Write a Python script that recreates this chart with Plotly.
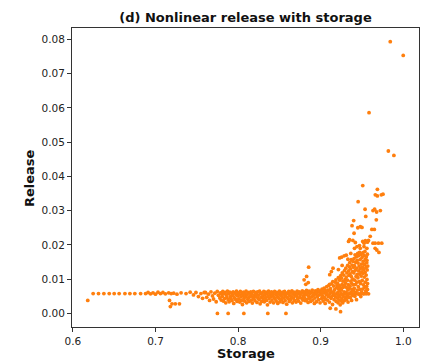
import plotly.graph_objects as go

# ---- flat low-storage tail ----
tail_x = [0.618, 0.6245, 0.631, 0.6375, 0.644, 0.650, 0.656, 0.663, 0.669, 0.675,
          0.682, 0.688, 0.691, 0.694, 0.697, 0.700, 0.703, 0.706, 0.709, 0.712,
          0.716, 0.719, 0.722, 0.726, 0.731, 0.737, 0.742, 0.746, 0.749, 0.752,
          0.755, 0.757, 0.759, 0.717, 0.718, 0.720, 0.724, 0.729]
tail_y = [0.0038, 0.0058, 0.0058, 0.0058, 0.0058, 0.0058, 0.0058, 0.0058, 0.0058, 0.0058,
          0.0058, 0.0058, 0.0061, 0.0057, 0.0060, 0.0056, 0.0062, 0.0058, 0.0061, 0.0057,
          0.0060, 0.0058, 0.0059, 0.0056, 0.0060, 0.0058, 0.0062, 0.0054, 0.0061, 0.0049,
          0.0058, 0.0044, 0.0061, 0.0038, 0.0020, 0.0028, 0.0028, 0.0028]

# ---- dense band (storage 0.76 - 0.92) ----
band_x = [
    0.7605, 0.7620, 0.7641, 0.7655, 0.7672, 0.7690, 0.7703, 0.7718, 0.7735, 0.7748, 0.7762, 0.7779, 0.7788, 0.7796, 0.7801,
    0.7808, 0.7815, 0.7822, 0.7830, 0.7836, 0.7843, 0.7851, 0.7857, 0.7864, 0.7871, 0.7879, 0.7885, 0.7892, 0.7899,
    0.7906, 0.7912, 0.7920, 0.7927, 0.7933, 0.7940, 0.7948, 0.7954, 0.7961, 0.7968, 0.7975, 0.7981, 0.7988, 0.7994,
    0.8002, 0.8008, 0.8015, 0.8021, 0.8027, 0.8034, 0.8040, 0.8047, 0.8053, 0.8059, 0.8066, 0.8072, 0.8078, 0.8085,
    0.8091, 0.8097, 0.8104, 0.8110, 0.8116, 0.8123, 0.8129, 0.8135, 0.8142, 0.8148, 0.8154, 0.8161, 0.8167, 0.8173,
    0.8180, 0.8186, 0.8192, 0.8198,
    0.8204, 0.8210, 0.8217, 0.8223, 0.8229, 0.8236, 0.8242, 0.8248, 0.8255, 0.8261, 0.8267, 0.8274, 0.8280, 0.8286,
    0.8293, 0.8299, 0.8305, 0.8312, 0.8318, 0.8324, 0.8331, 0.8337, 0.8343, 0.8350, 0.8356, 0.8362, 0.8369, 0.8375,
    0.8381, 0.8388, 0.8394, 0.8399,
    0.8405, 0.8411, 0.8418, 0.8424, 0.8430, 0.8437, 0.8443, 0.8449, 0.8456, 0.8462, 0.8468, 0.8475, 0.8481, 0.8487,
    0.8494, 0.8500, 0.8506, 0.8513, 0.8519, 0.8525, 0.8532, 0.8538, 0.8544, 0.8551, 0.8557, 0.8563, 0.8570, 0.8576,
    0.8582, 0.8589, 0.8595,
    0.8601, 0.8607, 0.8614, 0.8620, 0.8626, 0.8633, 0.8639, 0.8645, 0.8652, 0.8658, 0.8664, 0.8671, 0.8677, 0.8683,
    0.8690, 0.8696, 0.8702, 0.8709, 0.8715, 0.8721, 0.8728, 0.8734, 0.8740, 0.8747, 0.8753, 0.8759, 0.8766, 0.8772,
    0.8778, 0.8785, 0.8791, 0.8797,
    0.8803, 0.8810, 0.8816, 0.8822, 0.8829, 0.8835, 0.8841, 0.8848, 0.8854, 0.8860, 0.8867, 0.8873, 0.8879, 0.8886,
    0.8892, 0.8898, 0.8905, 0.8911, 0.8917, 0.8924, 0.8930, 0.8936, 0.8943, 0.8949, 0.8955, 0.8962, 0.8968, 0.8974,
    0.8981, 0.8987, 0.8993, 0.8999,
    0.9005, 0.9011, 0.9017, 0.9024, 0.9030, 0.9036, 0.9043, 0.9049, 0.9055, 0.9062, 0.9068, 0.9074, 0.9081, 0.9087,
    0.9093, 0.9100, 0.9106, 0.9112, 0.9119, 0.9125, 0.9131, 0.9138, 0.9144, 0.9150, 0.9157, 0.9163, 0.9169, 0.9176,
    0.9182, 0.9188, 0.9195, 0.9199,
    0.9008, 0.9021, 0.9033, 0.9046, 0.9059, 0.9071, 0.9084, 0.9097, 0.9109, 0.9122, 0.9134, 0.9147, 0.9160, 0.9172,
    0.9185, 0.9197,
]
band_y = [
    0.0061, 0.0047, 0.0056, 0.0038, 0.0063, 0.0051, 0.0042, 0.0059, 0.0034, 0.0064, 0.0053, 0.0045, 0.0060, 0.0039, 0.0057,
    0.0050, 0.0064, 0.0036, 0.0058, 0.0043, 0.0061, 0.0031, 0.0054, 0.0047, 0.0065, 0.0040, 0.0057, 0.0034, 0.0062,
    0.0049, 0.0044, 0.0059, 0.0037, 0.0053, 0.0063, 0.0029, 0.0046, 0.0060, 0.0041, 0.0055, 0.0065, 0.0035, 0.0051,
    0.0060, 0.0042, 0.0055, 0.0033, 0.0064, 0.0048, 0.0038, 0.0058, 0.0026, 0.0052, 0.0062, 0.0044, 0.0036, 0.0057,
    0.0049, 0.0065, 0.0031, 0.0054, 0.0041, 0.0061, 0.0046, 0.0035, 0.0059, 0.0050, 0.0063, 0.0039, 0.0056, 0.0030,
    0.0047, 0.0064, 0.0043, 0.0053,
    0.0037, 0.0061, 0.0049, 0.0056, 0.0032, 0.0063, 0.0044, 0.0053, 0.0040, 0.0065, 0.0028, 0.0058, 0.0047, 0.0035,
    0.0060, 0.0051, 0.0042, 0.0064, 0.0034, 0.0055, 0.0046, 0.0062, 0.0038, 0.0057, 0.0025, 0.0050, 0.0065, 0.0043,
    0.0059, 0.0033, 0.0054, 0.0048,
    0.0063, 0.0039, 0.0052, 0.0058, 0.0031, 0.0046, 0.0064, 0.0042, 0.0055, 0.0036, 0.0061, 0.0049, 0.0029, 0.0057,
    0.0044, 0.0065, 0.0034, 0.0053, 0.0060, 0.0040, 0.0048, 0.0062, 0.0032, 0.0056, 0.0045, 0.0064, 0.0037, 0.0051,
    0.0059, 0.0027, 0.0047,
    0.0058, 0.0043, 0.0064, 0.0035, 0.0052, 0.0061, 0.0040, 0.0048, 0.0066, 0.0031, 0.0056, 0.0045, 0.0062, 0.0038,
    0.0053, 0.0059, 0.0033, 0.0050, 0.0065, 0.0042, 0.0057, 0.0036, 0.0063, 0.0047, 0.0054, 0.0030, 0.0060, 0.0044,
    0.0066, 0.0039, 0.0051, 0.0058,
    0.0046, 0.0063, 0.0037, 0.0055, 0.0067, 0.0041, 0.0059, 0.0032, 0.0050, 0.0065, 0.0044, 0.0057, 0.0035, 0.0062,
    0.0048, 0.0068, 0.0039, 0.0053, 0.0060, 0.0029, 0.0045, 0.0066, 0.0056, 0.0034, 0.0061, 0.0049, 0.0069, 0.0040,
    0.0054, 0.0064, 0.0031, 0.0058,
    0.0066, 0.0043, 0.0071, 0.0051, 0.0036, 0.0060, 0.0074, 0.0046, 0.0029, 0.0063, 0.0055, 0.0078, 0.0039, 0.0068,
    0.0049, 0.0082, 0.0033, 0.0058, 0.0072, 0.0044, 0.0086, 0.0062, 0.0026, 0.0053, 0.0080, 0.0040, 0.0069, 0.0091,
    0.0048, 0.0035, 0.0075, 0.0057,
    0.0054, 0.0062, 0.0047, 0.0068, 0.0041, 0.0057, 0.0065, 0.0052, 0.0085, 0.0066, 0.0049, 0.0093, 0.0061, 0.0055,
    0.0098, 0.0083,
]

# ---- rising cloud (storage 0.92 - 0.957) ----
rise_x = [
    0.9202, 0.9205, 0.9208, 0.9211, 0.9214, 0.9216, 0.9219, 0.9222, 0.9225, 0.9228, 0.9231, 0.9234, 0.9237, 0.9240,
    0.9243, 0.9246, 0.9248,
    0.9251, 0.9254, 0.9257, 0.9260, 0.9262, 0.9265, 0.9268, 0.9271, 0.9274, 0.9277, 0.9280, 0.9283, 0.9286, 0.9289,
    0.9292, 0.9294, 0.9297, 0.9299,
    0.9302, 0.9305, 0.9307, 0.9310, 0.9313, 0.9316, 0.9318, 0.9321, 0.9324, 0.9327, 0.9329, 0.9332, 0.9335, 0.9338,
    0.9340, 0.9343, 0.9346, 0.9348, 0.9350,
    0.9352, 0.9355, 0.9357, 0.9360, 0.9362, 0.9365, 0.9367, 0.9370, 0.9372, 0.9375, 0.9377, 0.9380, 0.9382, 0.9385,
    0.9387, 0.9390, 0.9392, 0.9395, 0.9397, 0.9399,
    0.9402, 0.9404, 0.9407, 0.9409, 0.9412, 0.9414, 0.9417, 0.9419, 0.9422, 0.9424, 0.9427, 0.9429, 0.9432, 0.9434,
    0.9437, 0.9439, 0.9442, 0.9444, 0.9447, 0.9449,
    0.9451, 0.9453, 0.9456, 0.9458, 0.9461, 0.9463, 0.9466, 0.9468, 0.9471, 0.9473, 0.9476, 0.9478, 0.9481, 0.9483,
    0.9486, 0.9488, 0.9491, 0.9493, 0.9496, 0.9498,
    0.9501, 0.9503, 0.9506, 0.9508, 0.9511, 0.9513, 0.9516, 0.9518, 0.9521, 0.9523, 0.9526, 0.9528, 0.9531, 0.9533,
    0.9536, 0.9538, 0.9541, 0.9543, 0.9546, 0.9548,
    0.9551, 0.9553, 0.9556, 0.9558, 0.9561, 0.9563, 0.9566, 0.9568, 0.9570, 0.9553, 0.9560, 0.9567,
    0.9215, 0.9260, 0.9330, 0.9365, 0.9410, 0.9440, 0.9470, 0.9480, 0.9525, 0.9560, 0.9230,
]
rise_y = [
    0.0045, 0.0088, 0.0061, 0.0031, 0.0104, 0.0072, 0.0053, 0.0039, 0.0081, 0.0066, 0.0097, 0.0048, 0.0025, 0.0075,
    0.0110, 0.0058, 0.0036,
    0.0068, 0.0103, 0.0042, 0.0085, 0.0118, 0.0055, 0.0031, 0.0094, 0.0076, 0.0049, 0.0112, 0.0063, 0.0037, 0.0125,
    0.0081, 0.0058, 0.0099, 0.0046,
    0.0089, 0.0132, 0.0061, 0.0106, 0.0040, 0.0075, 0.0118, 0.0052, 0.0097, 0.0140, 0.0068, 0.0033, 0.0084, 0.0124,
    0.0047, 0.0111, 0.0072, 0.0136, 0.0057,
    0.0148, 0.0079, 0.0115, 0.0046, 0.0130, 0.0094, 0.0062, 0.0157, 0.0107, 0.0038, 0.0087, 0.0141, 0.0070, 0.0122,
    0.0053, 0.0100, 0.0152, 0.0083, 0.0135, 0.0066,
    0.0118, 0.0160, 0.0073, 0.0139, 0.0097, 0.0050, 0.0171, 0.0126, 0.0085, 0.0149, 0.0061, 0.0108, 0.0165, 0.0040,
    0.0132, 0.0091, 0.0155, 0.0114, 0.0068, 0.0175,
    0.0104, 0.0147, 0.0078, 0.0168, 0.0124, 0.0056, 0.0138, 0.0093, 0.0178, 0.0115, 0.0070, 0.0157, 0.0131, 0.0087,
    0.0049, 0.0172, 0.0109, 0.0144, 0.0062, 0.0121,
    0.0163, 0.0096, 0.0135, 0.0071, 0.0177, 0.0117, 0.0152, 0.0083, 0.0128, 0.0058, 0.0169, 0.0106, 0.0143, 0.0076,
    0.0181, 0.0120, 0.0091, 0.0158, 0.0066, 0.0134,
    0.0112, 0.0165, 0.0079, 0.0148, 0.0099, 0.0127, 0.0173, 0.0087, 0.0138, 0.0061, 0.0155, 0.0070,
    0.0128, 0.0140, 0.0158, 0.0175, 0.0190, 0.0195, 0.0198, 0.0190, 0.0195, 0.0190, 0.0162,
]

# ---- constant-release line at high storage ----
line_x = [0.931, 0.934, 0.937, 0.940, 0.943, 0.946, 0.949, 0.952, 0.955, 0.958]
line_y = [0.0057, 0.0057, 0.0057, 0.0057, 0.0057, 0.0057, 0.0057, 0.0057, 0.0057, 0.0057]

# ---- scattered points / outliers ----
out_x = [0.775, 0.788, 0.807, 0.836, 0.858,
         0.8855, 0.883, 0.880, 0.885, 0.882, 0.9116, 0.9185, 0.9241,
         0.911, 0.913, 0.915, 0.9253, 0.9285, 0.931, 0.9338, 0.938, 0.940,
         0.9405, 0.935, 0.939, 0.942, 0.945, 0.948, 0.950, 0.951, 0.9526, 0.9542,
         0.9566, 0.958, 0.962, 0.965, 0.9634, 0.9654, 0.9678, 0.9723, 0.9546,
         0.9674, 0.9538, 0.9454, 0.951, 0.9662, 0.9687, 0.9735, 0.9755, 0.9687,
         0.982, 0.9887, 0.9586, 0.9843, 1.000,
         0.966, 0.968, 0.9706, 0.9634, 0.9660, 0.9700, 0.9740, 0.9600]
out_y = [0.0000, 0.0000, 0.0000, 0.0000, 0.0000,
         0.0135, 0.0108, 0.0098, 0.0090, 0.0085, 0.0015, 0.0013, 0.0005,
         0.0113, 0.0122, 0.0132, 0.0164, 0.0168, 0.0170, 0.0210, 0.0256, 0.0271,
         0.0234, 0.0215, 0.0213, 0.0207, 0.0250, 0.0253, 0.0251, 0.0210, 0.0205, 0.0212,
         0.0208, 0.0213, 0.0245, 0.0245, 0.0300, 0.0304, 0.0296, 0.0300, 0.0283,
         0.0273, 0.0304, 0.0326, 0.0373, 0.0346, 0.0343, 0.0346, 0.0348, 0.0362,
         0.0474, 0.0461, 0.0586, 0.0793, 0.0753,
         0.0190, 0.0185, 0.0178, 0.0205, 0.0205, 0.0205, 0.0205, 0.0225]

xs = tail_x + band_x + rise_x + line_x + out_x
ys = tail_y + band_y + rise_y + line_y + out_y

x_ticks = [0.6, 0.7, 0.8, 0.9, 1.0]
y_ticks = [0.00, 0.01, 0.02, 0.03, 0.04, 0.05, 0.06, 0.07, 0.08]

fig = go.Figure(go.Scatter(
    x=xs, y=ys, mode="markers",
    marker=dict(color="#ff7f0e", size=3.8, line=dict(width=0)),
    hoverinfo="skip",
))

axis_common = dict(
    showgrid=False, zeroline=False, showline=True, linecolor="#333333", linewidth=1,
    mirror=True, ticks="outside", ticklen=4, tickwidth=1, tickcolor="#333333",
    tickfont=dict(family="DejaVu Sans", size=10.5, color="#222222"),
    automargin=False,
)
label_font = dict(family="DejaVu Sans", size=13, color="#111111")
fig.update_layout(
    width=423, height=361,
    margin=dict(l=72, r=4, t=28, b=34),
    paper_bgcolor="white", plot_bgcolor="white",
    showlegend=False,
    title=dict(text="<b>(d) Nonlinear release with storage</b>", x=0.5, xref="paper",
               y=1 - 17 / 361, yanchor="middle", yref="container",
               font=dict(family="DejaVu Sans", size=13, color="#111111")),
    xaxis=dict(range=[0.5989, 1.0191], tickvals=x_ticks, tickformat=".1f", **axis_common),
    yaxis=dict(range=[-0.00397, 0.0833], tickvals=y_ticks, tickformat=".2f", **axis_common),
    annotations=[
        dict(text="<b>Storage</b>", xref="paper", yref="paper", x=0.5, y=-0.0903,
             xanchor="center", yanchor="middle", showarrow=False, font=label_font),
        dict(text="<b>Release</b>", xref="paper", yref="paper", x=-0.1239, y=0.498,
             xanchor="center", yanchor="middle", showarrow=False, textangle=-90,
             font=label_font),
    ],
)

fig.write_html("out.html")
